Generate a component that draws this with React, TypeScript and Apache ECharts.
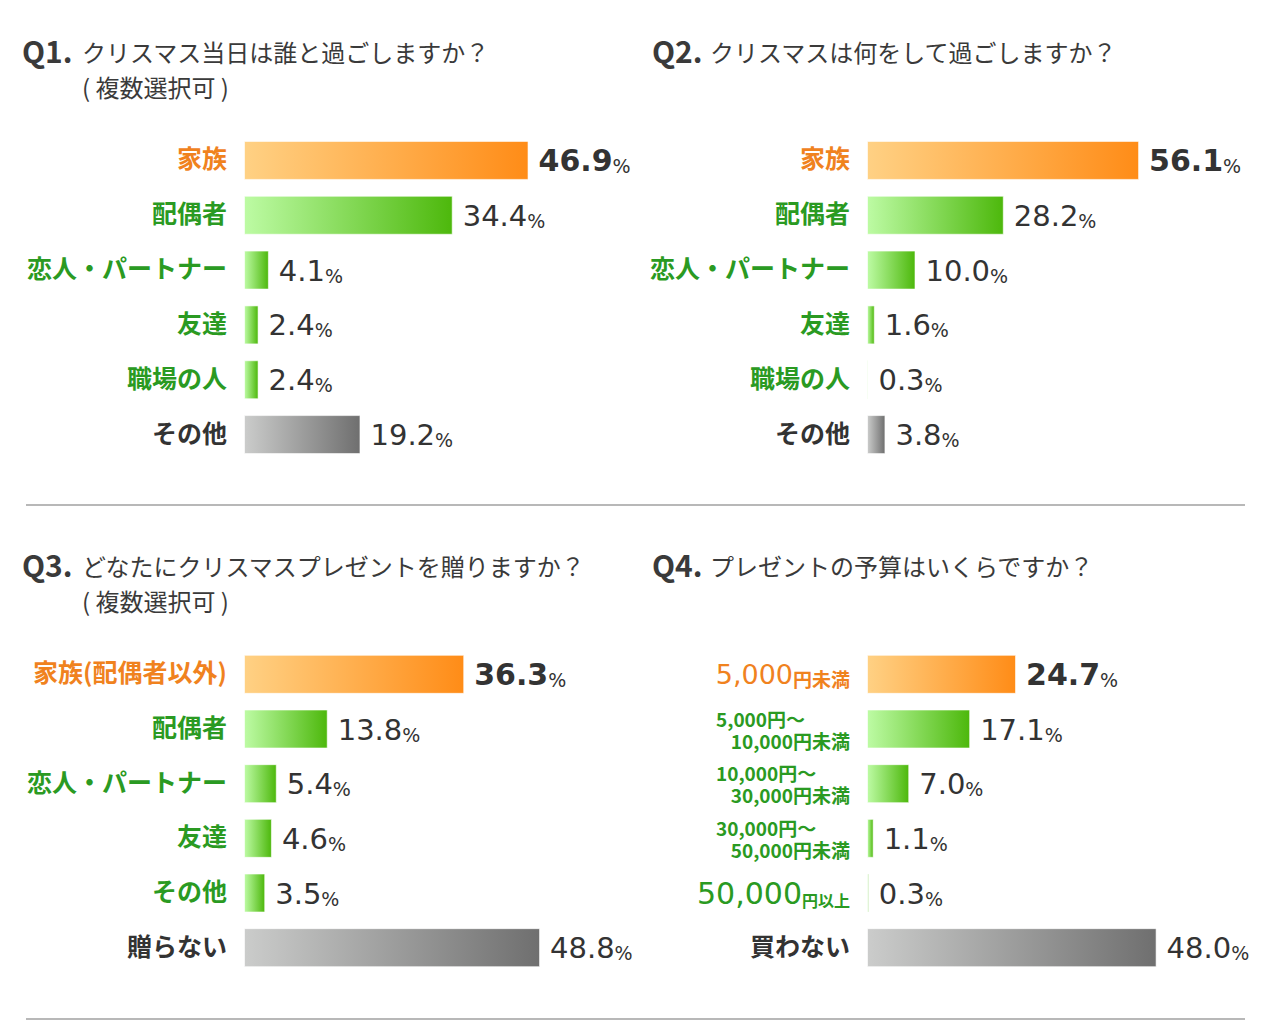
import React, { useEffect, useRef } from "react";
import * as echarts from "echarts";

const q1Title = "クリスマス当日は誰と過ごしますか？";
const q2Title = "クリスマスは何をして過ごしますか？";
const q3Title = "どなたにクリスマスプレゼントを贈りますか？";
const q4Title = "プレゼントの予算はいくらですか？";
const multiNote = "( 複数選択可 )";

const q1Categories = ["家族", "配偶者", "恋人・パートナー", "友達", "職場の人", "その他"];
const q1Values = [46.9, 34.4, 4.1, 2.4, 2.4, 19.2];

const q2Categories = ["家族", "配偶者", "恋人・パートナー", "友達", "職場の人", "その他"];
const q2Values = [56.1, 28.2, 10.0, 1.6, 0.3, 3.8];

const q3Categories = ["家族(配偶者以外)", "配偶者", "恋人・パートナー", "友達", "その他", "贈らない"];
const q3Values = [36.3, 13.8, 5.4, 4.6, 3.5, 48.8];

const q4Categories = [
  "5,000円未満",
  "5,000円〜\n10,000円未満",
  "10,000円〜\n30,000円未満",
  "30,000円〜\n50,000円未満",
  "50,000円以上",
  "買わない",
];
const q4Values = [24.7, 17.1, 7.0, 1.1, 0.3, 48.0];

const FONT = "Noto Sans CJK JP";
const NUMFONT = "DejaVu Sans";
const ORANGE_TXT = "#f0821e";
const GREEN_TXT = "#2a9a22";
const DARK_TXT = "#333333";

const grad = (c0: string, c1: string) =>
  new echarts.graphic.LinearGradient(0, 0, 1, 0, [
    { offset: 0, color: c0 },
    { offset: 1, color: c1 },
  ]);

const barColor = (idx: number) => {
  if (idx === 0) return grad("#ffd184", "#ff8c17");
  if (idx === 5) return grad("#cbcccb", "#6f6f6f");
  return grad("#bdfba4", "#4db80c");
};

const valueRich = {
  b: { fontFamily: NUMFONT, fontSize: 30, fontWeight: "bold", color: "#333", verticalAlign: "bottom", lineHeight: 34 },
  n: { fontFamily: NUMFONT, fontSize: 29, color: "#333", verticalAlign: "bottom", lineHeight: 34 },
  p: { fontFamily: NUMFONT, fontSize: 19, color: "#333", verticalAlign: "bottom", lineHeight: 27 },
};

const catBase = { fontFamily: FONT, fontSize: 25, fontWeight: "bold", padding: [0, 0, 6, 0] };

const catRich = {
  o: { ...catBase, color: ORANGE_TXT },
  g: { ...catBase, color: GREEN_TXT },
  d: { ...catBase, color: DARK_TXT },
  on: { fontFamily: NUMFONT, fontSize: 27, color: ORANGE_TXT, verticalAlign: "bottom", lineHeight: 28 },
  os: { fontFamily: FONT, fontSize: 19, color: ORANGE_TXT, fontWeight: "bold", verticalAlign: "bottom", lineHeight: 22 },
  gn: { fontFamily: NUMFONT, fontSize: 30, color: GREEN_TXT, verticalAlign: "bottom", lineHeight: 30 },
  gs: { fontFamily: FONT, fontSize: 16, color: GREEN_TXT, fontWeight: "bold", verticalAlign: "bottom", lineHeight: 20 },
  m1: { fontFamily: FONT, fontSize: 19, color: GREEN_TXT, fontWeight: "bold", width: 134, align: "left", lineHeight: 22 },
  m2: { fontFamily: FONT, fontSize: 19, color: GREEN_TXT, fontWeight: "bold", width: 134, align: "right", lineHeight: 22 },
};

const simpleCatFormatter = (value: string, idx: number) => {
  const key = idx === 0 ? "o" : idx === 5 ? "d" : "g";
  return `{${key}|${value}}`;
};

const q4CatFormatter = (value: string, idx: number) => {
  if (value.includes("\n")) {
    const [a, b] = value.split("\n");
    return `{m1|${a}}\n{m2|${b}}`;
  }
  if (idx === 5) return `{d|${value}}`;
  const m = value.match(/^([\d,]+)(.+)$/);
  if (!m) return `{g|${value}}`;
  return idx === 0 ? `{on|${m[1]}}{os|${m[2]}}` : `{gn|${m[1]}}{gs|${m[2]}}`;
};

const grids = [
  { left: 244, top: 133, width: 364, height: 329 },
  { left: 867, top: 133, width: 291, height: 329 },
  { left: 244, top: 647, width: 364, height: 328 },
  { left: 867, top: 647, width: 362, height: 328 },
];

const panels = [
  { cats: q1Categories, vals: q1Values, fmt: simpleCatFormatter },
  { cats: q2Categories, vals: q2Values, fmt: simpleCatFormatter },
  { cats: q3Categories, vals: q3Values, fmt: simpleCatFormatter },
  { cats: q4Categories, vals: q4Values, fmt: q4CatFormatter },
];

const titleText = (x: number, y: number, text: string, size: number, bold: boolean) => ({
  type: "text",
  x,
  y,
  style: {
    text,
    fontFamily: FONT,
    fontSize: size,
    fontWeight: bold ? "bold" : "normal",
    fill: "#3a3a3a",
    verticalAlign: "middle",
  },
});

export default function App() {
  const ref = useRef<HTMLDivElement>(null);
  useEffect(() => {
    if (!ref.current) return;
    const chart = echarts.init(ref.current, undefined, { renderer: "svg" });
    const option: any = {
      animation: false,
      backgroundColor: "#ffffff",
      grid: grids.map((g) => ({ ...g, containLabel: false })),
      xAxis: grids.map((_, i) => ({
        type: "value",
        gridIndex: i,
        min: 0,
        max: 60,
        show: false,
      })),
      yAxis: panels.map((p, i) => ({
        type: "category",
        gridIndex: i,
        inverse: true,
        data: p.cats,
        axisLine: { show: false },
        axisTick: { show: false },
        splitLine: { show: false },
        axisLabel: {
          margin: 17,
          formatter: p.fmt,
          rich: catRich,
        },
      })),
      series: panels.map((p, i) => ({
        type: "bar",
        xAxisIndex: i,
        yAxisIndex: i,
        barWidth: 39,
        data: p.vals.map((v, j) => ({
          value: v,
          itemStyle: { color: barColor(j), borderColor: "rgba(255,255,255,0.6)", borderWidth: 1 },
        })),
        label: {
          show: true,
          position: "right",
          distance: 10,
          offset: [0, -2],
          formatter: (params: any) => {
            const key = params.dataIndex === 0 ? "b" : "n";
            return `{${key}|${params.value.toFixed(1)}}{p|%}`;
          },
          rich: valueRich,
        },
      })),
      graphic: [
        titleText(22, 50, "Q1.", 30, true),
        titleText(82, 51, q1Title, 24, false),
        titleText(82, 86, multiNote, 24, false),
        titleText(652, 50, "Q2.", 30, true),
        titleText(710, 51, q2Title, 24, false),
        titleText(22, 564, "Q3.", 30, true),
        titleText(82, 565, q3Title, 24, false),
        titleText(82, 600, multiNote, 24, false),
        titleText(652, 564, "Q4.", 30, true),
        titleText(710, 565, q4Title, 24, false),
        { type: "line", shape: { x1: 26, y1: 505, x2: 1245, y2: 505 }, style: { stroke: "#b8b8b8", lineWidth: 2 } },
        { type: "line", shape: { x1: 26, y1: 1019, x2: 1245, y2: 1019 }, style: { stroke: "#b8b8b8", lineWidth: 2 } },
      ],
    };
    chart.setOption(option);
    return () => chart.dispose();
  }, []);
  return (
    <div
      ref={ref}
      style={{ position: "fixed", left: 0, top: 0, width: 1280, height: 1024 }}
    />
  );
}
